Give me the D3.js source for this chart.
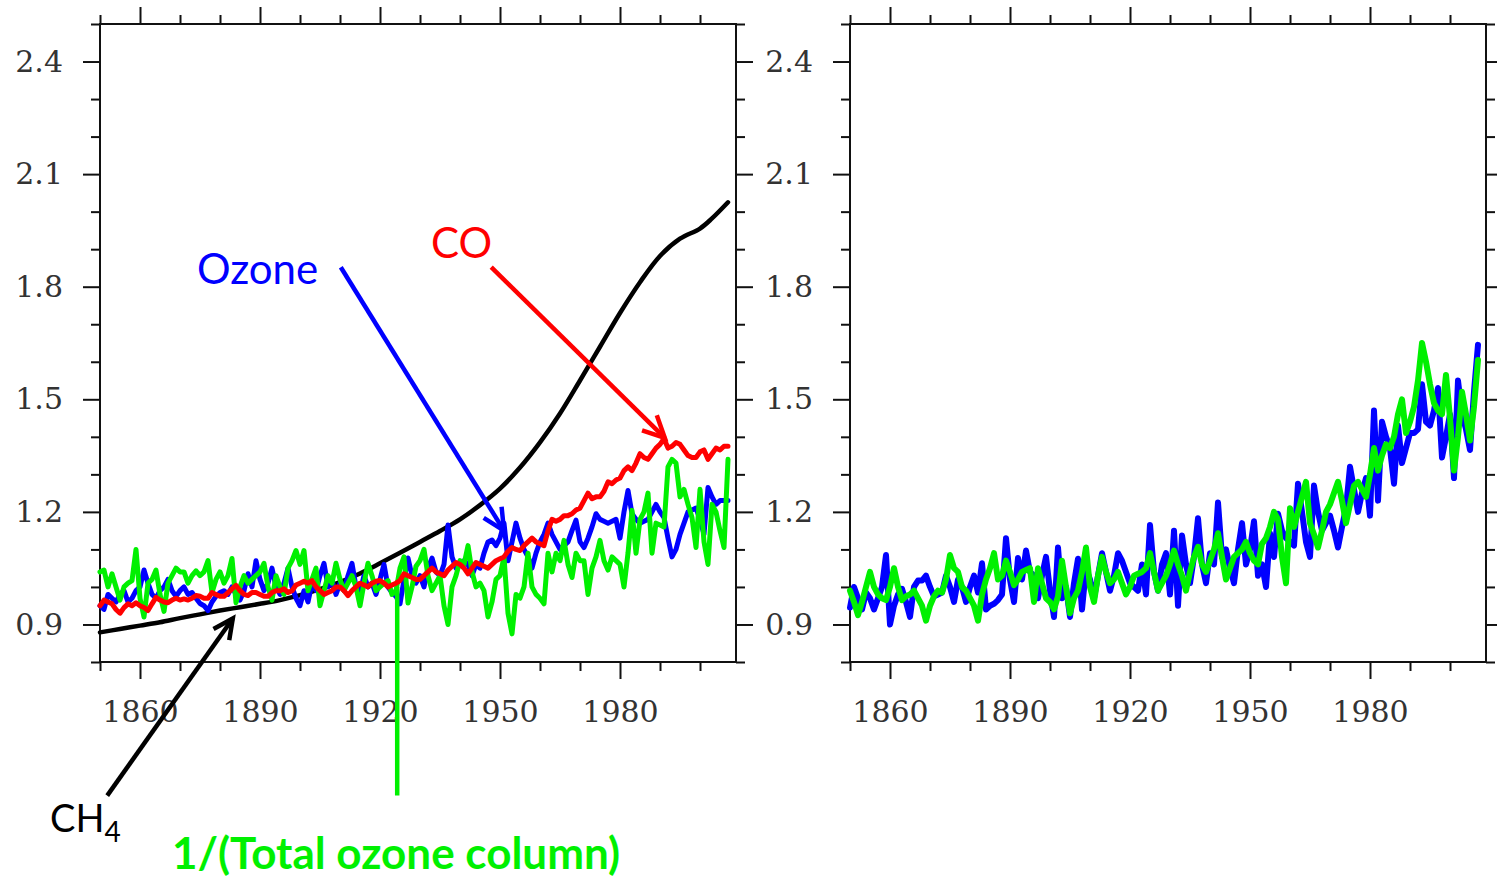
<!DOCTYPE html>
<html>
<head>
<meta charset="utf-8">
<script src="https://cdn.jsdelivr.net/npm/d3@7"></script>
<style>
body { margin: 0; background: #fff; }
svg { display: block; }
</style>
</head>
<body>
<svg id="chart" width="1497" height="878"></svg>
<script>
// annual values, 1850 .. 2007
var years = d3.range(1850, 2008)

var ozoneLeft = [
  0.95, 0.94, 0.98, 0.97, 0.96, 0.98, 0.99, 0.96, 0.97, 0.99,
  1.00, 1.045, 1.01, 0.98, 0.97, 0.99, 1.00, 1.02, 0.99, 0.975,
  0.99, 1.00, 0.98, 0.985, 0.97, 0.956, 0.95, 0.937, 0.96, 0.975,
  0.985, 0.99, 0.98, 1.00, 0.98, 0.965, 0.99, 1.035, 1.00, 1.07,
  1.02, 0.99, 1.01, 1.05, 1.00, 0.98, 1.01, 1.05, 1.00, 0.97,
  0.95, 0.99, 0.96, 1.01, 0.99, 1.03, 1.063, 1.00, 1.017, 0.98,
  1.01, 0.99, 1.03, 1.063, 1.00, 0.985, 1.03, 1.00, 1.01, 0.98,
  1.02, 1.06, 1.00, 0.985, 0.975, 0.955, 1.02, 1.077, 1.03, 1.01,
  1.03, 1.00, 1.05, 1.077, 1.04, 1.03, 1.06, 1.165, 1.08, 1.05,
  1.06, 1.07, 1.06, 1.03, 1.06, 1.05, 1.09, 1.12, 1.125, 1.11,
  1.13, 1.17, 1.07, 1.12, 1.17, 1.13, 1.10, 1.08, 1.05, 1.09,
  1.12, 1.14, 1.17, 1.14, 1.12, 1.10, 1.11, 1.12, 1.15, 1.178,
  1.12, 1.105, 1.13, 1.16, 1.195, 1.18, 1.175, 1.17, 1.175, 1.18,
  1.13, 1.20, 1.257, 1.195, 1.18, 1.17, 1.175, 1.18, 1.20, 1.22,
  1.20, 1.185, 1.13, 1.08, 1.10, 1.14, 1.17, 1.20, 1.205, 1.21,
  1.18, 1.14, 1.265, 1.24, 1.22, 1.23, 1.23, 1.23
]

var columnLeft = [
  1.04, 1.045, 1.00, 1.035, 1.00, 0.965, 1.00, 1.01, 1.017, 1.10,
  0.97, 0.92, 1.01, 1.02, 1.045, 0.98, 0.935, 1.01, 1.03, 1.05,
  1.04, 1.04, 1.01, 1.03, 1.043, 1.03, 1.04, 1.07, 0.985, 1.02,
  1.04, 1.01, 1.03, 1.076, 0.958, 1.00, 1.03, 1.01, 1.02, 1.03,
  1.04, 1.063, 1.00, 0.965, 1.03, 1.00, 0.98, 1.05, 1.07, 1.097,
  1.06, 1.097, 0.99, 1.02, 1.05, 0.95, 0.99, 1.03, 1.01, 1.063,
  1.02, 0.99, 1.01, 1.03, 1.00, 0.95, 1.01, 1.063, 1.03, 0.99,
  1.00, 1.01, 1.017, 0.98, 0.99, 1.05, 1.08, 0.957, 1.00, 1.055,
  1.07, 1.10, 1.03, 0.99, 1.01, 1.03, 0.95, 0.90, 1.00, 1.03,
  1.07, 1.06, 1.11, 1.04, 1.00, 1.01, 0.99, 0.92, 0.96, 1.02,
  1.03, 1.08, 0.93, 0.875, 0.98, 0.97, 1.00, 1.09, 1.00, 0.98,
  0.97, 0.955, 1.09, 1.04, 1.09, 1.07, 1.124, 1.06, 1.025, 1.09,
  1.07, 1.07, 0.98, 1.05, 1.08, 1.124, 1.07, 1.045, 1.08, 1.07,
  1.06, 1.00, 1.09, 1.204, 1.09, 1.18, 1.20, 1.25, 1.09, 1.17,
  1.165, 1.16, 1.32, 1.34, 1.33, 1.24, 1.26, 1.22, 1.185, 1.105,
  1.26, 1.12, 1.06, 1.22, 1.20, 1.15, 1.105, 1.34
]

var coLeft = [
  0.95, 0.965, 0.96, 0.955, 0.94, 0.93, 0.945, 0.955, 0.95, 0.958,
  0.95, 0.945, 0.937, 0.955, 0.972, 0.965, 0.96, 0.958, 0.965, 0.97,
  0.965, 0.968, 0.965, 0.97, 0.977, 0.975, 0.97, 0.97, 0.985, 0.98,
  0.975, 0.975, 0.985, 0.995, 1.004, 0.99, 0.98, 0.977, 0.985, 0.985,
  0.98, 0.975, 0.975, 0.985, 0.99, 0.99, 0.995, 0.985, 0.99, 1.005,
  1.01, 1.015, 1.01, 1.017, 1.00, 0.99, 0.98, 0.985, 0.99, 1.00,
  1.00, 0.99, 0.977, 0.99, 1.00, 1.01, 1.005, 1.00, 1.01, 1.015,
  1.017, 1.01, 1.00, 1.005, 1.01, 1.017, 1.035, 1.03, 1.025, 1.02,
  1.02, 1.03, 1.04, 1.05, 1.04, 1.035, 1.03, 1.045, 1.055, 1.065,
  1.06, 1.05, 1.035, 1.05, 1.065, 1.06, 1.055, 1.05, 1.06, 1.07,
  1.075, 1.08, 1.095, 1.105, 1.10, 1.097, 1.11, 1.12, 1.13, 1.12,
  1.115, 1.11, 1.15, 1.18, 1.175, 1.18, 1.19, 1.19, 1.195, 1.205,
  1.21, 1.23, 1.25, 1.235, 1.24, 1.24, 1.255, 1.28, 1.275, 1.285,
  1.29, 1.31, 1.32, 1.31, 1.33, 1.355, 1.345, 1.34, 1.355, 1.37,
  1.38, 1.395, 1.37, 1.375, 1.385, 1.38, 1.365, 1.35, 1.345, 1.345,
  1.36, 1.365, 1.34, 1.355, 1.37, 1.365, 1.375, 1.375
]

// CH4 is smooth, read every 5 years
var ch4Years = [1850, 1855, 1860, 1865, 1870, 1875, 1880, 1885, 1890, 1895,
  1900, 1905, 1910, 1915, 1920, 1925, 1930, 1935, 1940, 1945,
  1950, 1955, 1960, 1965, 1970, 1975, 1980, 1985, 1990, 1995,
  2000, 2003, 2007]
var ch4 = [0.879, 0.888, 0.897, 0.906, 0.917, 0.927, 0.937, 0.946, 0.955, 0.965,
  0.978, 0.994, 1.013, 1.036, 1.063, 1.091, 1.120, 1.149, 1.180, 1.218,
  1.262, 1.318, 1.385, 1.462, 1.55, 1.64, 1.73, 1.812, 1.882, 1.928,
  1.955, 1.982, 2.025]

var ozoneRight = [
  0.945, 1.00, 0.97, 0.94, 0.985, 0.97, 0.94, 0.97, 1.00, 1.085,
  0.90, 0.95, 0.98, 0.995, 0.96, 0.92, 1.00, 1.017, 1.017, 1.03,
  1.00, 0.975, 0.98, 0.985, 1.03, 1.00, 0.96, 1.02, 1.00, 0.96,
  1.00, 1.03, 0.985, 1.063, 0.94, 0.95, 0.955, 0.965, 0.98, 1.13,
  1.02, 0.96, 1.077, 1.02, 1.097, 1.04, 1.03, 0.97, 1.03, 1.08,
  0.99, 0.92, 1.105, 0.97, 1.00, 0.92, 1.01, 1.075, 0.94, 1.05,
  1.02, 0.97, 1.03, 1.09, 1.04, 0.99, 1.03, 1.09, 1.07, 1.04,
  1.01, 1.00, 0.99, 1.06, 0.98, 1.165, 1.04, 0.99, 1.06, 1.09,
  0.98, 1.15, 0.95, 1.137, 1.06, 1.01, 1.08, 1.183, 1.06, 1.01,
  1.09, 1.06, 1.225, 1.08, 1.10, 1.05, 1.01, 1.10, 1.17, 1.06,
  1.10, 1.175, 1.03, 1.06, 1.00, 1.143, 1.08, 1.195, 1.15, 1.13,
  1.12, 1.11, 1.275, 1.20, 1.12, 1.08, 1.27, 1.20, 1.15, 1.17,
  1.19, 1.15, 1.105, 1.16, 1.21, 1.32, 1.26, 1.20, 1.25, 1.29,
  1.19, 1.47, 1.23, 1.44, 1.40, 1.37, 1.275, 1.43, 1.33, 1.37,
  1.41, 1.41, 1.42, 1.54, 1.44, 1.43, 1.47, 1.53, 1.345, 1.40,
  1.46, 1.29, 1.55, 1.46, 1.42, 1.365, 1.52, 1.645
]

var columnRight = [
  0.99, 0.96, 0.925, 0.96, 1.00, 1.04, 1.00, 0.98, 0.97, 0.965,
  1.00, 1.05, 1.00, 0.965, 0.975, 0.98, 0.99, 0.97, 0.95, 0.91,
  0.95, 0.975, 0.99, 0.985, 1.02, 1.085, 1.05, 1.04, 1.00, 0.99,
  0.97, 0.95, 0.91, 0.98, 1.02, 1.05, 1.09, 1.02, 1.03, 1.07,
  1.04, 1.005, 1.02, 1.04, 1.045, 1.05, 0.96, 1.05, 1.01, 0.97,
  0.96, 0.94, 0.975, 1.07, 1.00, 0.93, 0.97, 0.99, 1.04, 1.105,
  1.00, 0.96, 1.03, 1.08, 1.04, 1.01, 1.02, 1.04, 1.01, 0.98,
  1.00, 1.03, 1.035, 1.04, 1.05, 1.09, 1.04, 0.99, 1.01, 1.03,
  1.06, 1.097, 1.06, 1.03, 0.99, 1.04, 1.08, 1.107, 1.06, 1.04,
  1.07, 1.10, 1.143, 1.08, 1.02, 1.05, 1.08, 1.09, 1.10, 1.12,
  1.09, 1.07, 1.06, 1.115, 1.13, 1.16, 1.20, 1.18, 1.08, 1.01,
  1.21, 1.16, 1.20, 1.24, 1.28, 1.17, 1.14, 1.105, 1.15, 1.20,
  1.22, 1.25, 1.28, 1.23, 1.17, 1.22, 1.27, 1.28, 1.26, 1.24,
  1.30, 1.37, 1.31, 1.35, 1.38, 1.37, 1.40, 1.46, 1.50, 1.41,
  1.44, 1.48, 1.55, 1.65, 1.60, 1.54, 1.49, 1.47, 1.46, 1.565,
  1.45, 1.31, 1.40, 1.52, 1.46, 1.39, 1.48, 1.605
]

var yMajor = [0.9, 1.2, 1.5, 1.8, 2.1, 2.4]
var yMinor = [0.8, 1.0, 1.1, 1.3, 1.4, 1.6, 1.7, 1.9, 2.0, 2.2, 2.3, 2.5]
var xMajor = [1860, 1890, 1920, 1950, 1980]
var xMinor = [1850, 1870, 1880, 1900, 1910, 1930, 1940, 1960, 1970, 1990, 2000]

var BLUE = "#0000ff", GREEN = "#00f000", RED = "#ff0000", BLACK = "#000"

const svg = d3.select("#chart")
svg.append("rect").attr("width", 1497).attr("height", 878).attr("fill", "#fff")

var plotTop = 24, plotBottom = 662, pw = 636

function toPoints(xs, vs){
  return xs.map((yr, i) => ({year: yr, value: vs[i]}))
}

function panel(left){
  let x = d3.scaleLinear().domain([1850, 2009]).range([left, left + pw])
  let y = d3.scaleLinear().domain([0.8, 2.5]).range([plotBottom, plotTop])
  let g = svg.append("g")

  // [axis maker, transform, has labels, which scale]
  let sides = [
    [s => d3.axisBottom(s), "translate(0," + plotBottom + ")", true, "x"],
    [s => d3.axisTop(s), "translate(0," + plotTop + ")", false, "x"],
    [s => d3.axisLeft(s), "translate(" + left + ",0)", true, "y"],
    [s => d3.axisRight(s), "translate(" + (left + pw) + ",0)", false, "y"]
  ]
  sides.forEach(function(sd){
    let sc = sd[3] === "x" ? x : y
    let maj = sd[3] === "x" ? xMajor : yMajor
    let min = sd[3] === "x" ? xMinor : yMinor

    let minAxis = sd[0](sc).tickValues(min).tickSize(9).tickSizeOuter(0).tickFormat("")
    let majAxis = sd[0](sc).tickValues(maj).tickSize(17).tickSizeOuter(0)
      .tickPadding(sd[3] === "x" ? 22 : 20)
    if (!sd[2]) majAxis.tickFormat("")
    else majAxis.tickFormat(sd[3] === "x" ? d3.format("d") : d3.format(".1f"))

    let gMin = g.append("g").attr("transform", sd[1]).call(minAxis)
    let gMaj = g.append("g").attr("transform", sd[1]).call(majAxis)
    ;[gMin, gMaj].forEach(s => {
      s.select(".domain").remove()
      s.selectAll(".tick line").attr("stroke", "#111").attr("stroke-width", 2)
      s.selectAll(".tick text")
        .attr("font-family", "DejaVu Serif, serif")
        .attr("font-size", 30)
        .attr("fill", "#333")
    })
  })

  g.append("rect")
    .attr("x", left).attr("y", plotTop)
    .attr("width", pw).attr("height", plotBottom - plotTop)
    .attr("fill", "none").attr("stroke", "#111").attr("stroke-width", 2)

  return {g: g, x: x, y: y}
}

function drawSeries(p, data, color, width, curve){
  let line = d3.line()
    .x(d => p.x(d.year))
    .y(d => p.y(d.value))
    .curve(curve || d3.curveLinear)
  p.g.append("path")
    .datum(data)
    .attr("d", line)
    .attr("fill", "none")
    .attr("stroke", color)
    .attr("stroke-width", width)
    .attr("stroke-linejoin", "round")
    .attr("stroke-linecap", "round")
}

var L = panel(100)
var R = panel(850)

drawSeries(L, toPoints(ch4Years, ch4), BLACK, 4.5, d3.curveCatmullRom)
drawSeries(L, toPoints(years, ozoneLeft), BLUE, 5)
drawSeries(L, toPoints(years, columnLeft), GREEN, 5)
drawSeries(L, toPoints(years, coLeft), RED, 5)

drawSeries(R, toPoints(years, ozoneRight), BLUE, 6)
drawSeries(R, toPoints(years, columnRight), GREEN, 6)

// annotation arrows, ends given in left-panel data units
function arrow(p, from, to, color, head){
  let p0 = [p.x(from[0]), p.y(from[1])]
  let p1 = [p.x(to[0]), p.y(to[1])]
  let path = d3.line()
  p.g.append("path").attr("d", path([p0, p1]))
    .attr("stroke", color).attr("stroke-width", 4.5).attr("fill", "none")
  if (!head) return
  let ang = Math.atan2(p1[1] - p0[1], p1[0] - p0[0])
  let a = 26 * Math.PI / 180
  let h1 = [p1[0] - head * Math.cos(ang - a), p1[1] - head * Math.sin(ang - a)]
  let h2 = [p1[0] - head * Math.cos(ang + a), p1[1] - head * Math.sin(ang + a)]
  p.g.append("path").attr("d", path([h1, p1, h2]))
    .attr("stroke", color).attr("stroke-width", 4.5).attr("fill", "none")
    .attr("stroke-linejoin", "miter")
}

arrow(L, [1910.2, 1.852], [1951, 1.15], BLUE, 24)
arrow(L, [1947.8, 1.852], [1991.2, 1.397], RED, 24)
arrow(L, [1851.8, 0.444], [1883.2, 0.916], BLACK, 22)
arrow(L, [1924.3, 1.0], [1924.3, 0.444], GREEN, 0)

function note(txt, x, y, color, size, weight){
  return svg.append("text")
    .attr("x", x).attr("y", y)
    .attr("font-family", "Lato, sans-serif")
    .attr("font-size", size)
    .attr("font-weight", weight || "normal")
    .attr("fill", color)
    .text(txt)
}

note("Ozone", 197, 284, BLUE, 42)
note("CO", 431, 258, RED, 42)
let ch = note("CH", 50, 832, BLACK, 38)
ch.append("tspan").attr("font-size", 28).attr("dy", 10).text("4")
note("1/(Total ozone column)", 172, 869, GREEN, 44, "bold")
</script>
</body>
</html>
